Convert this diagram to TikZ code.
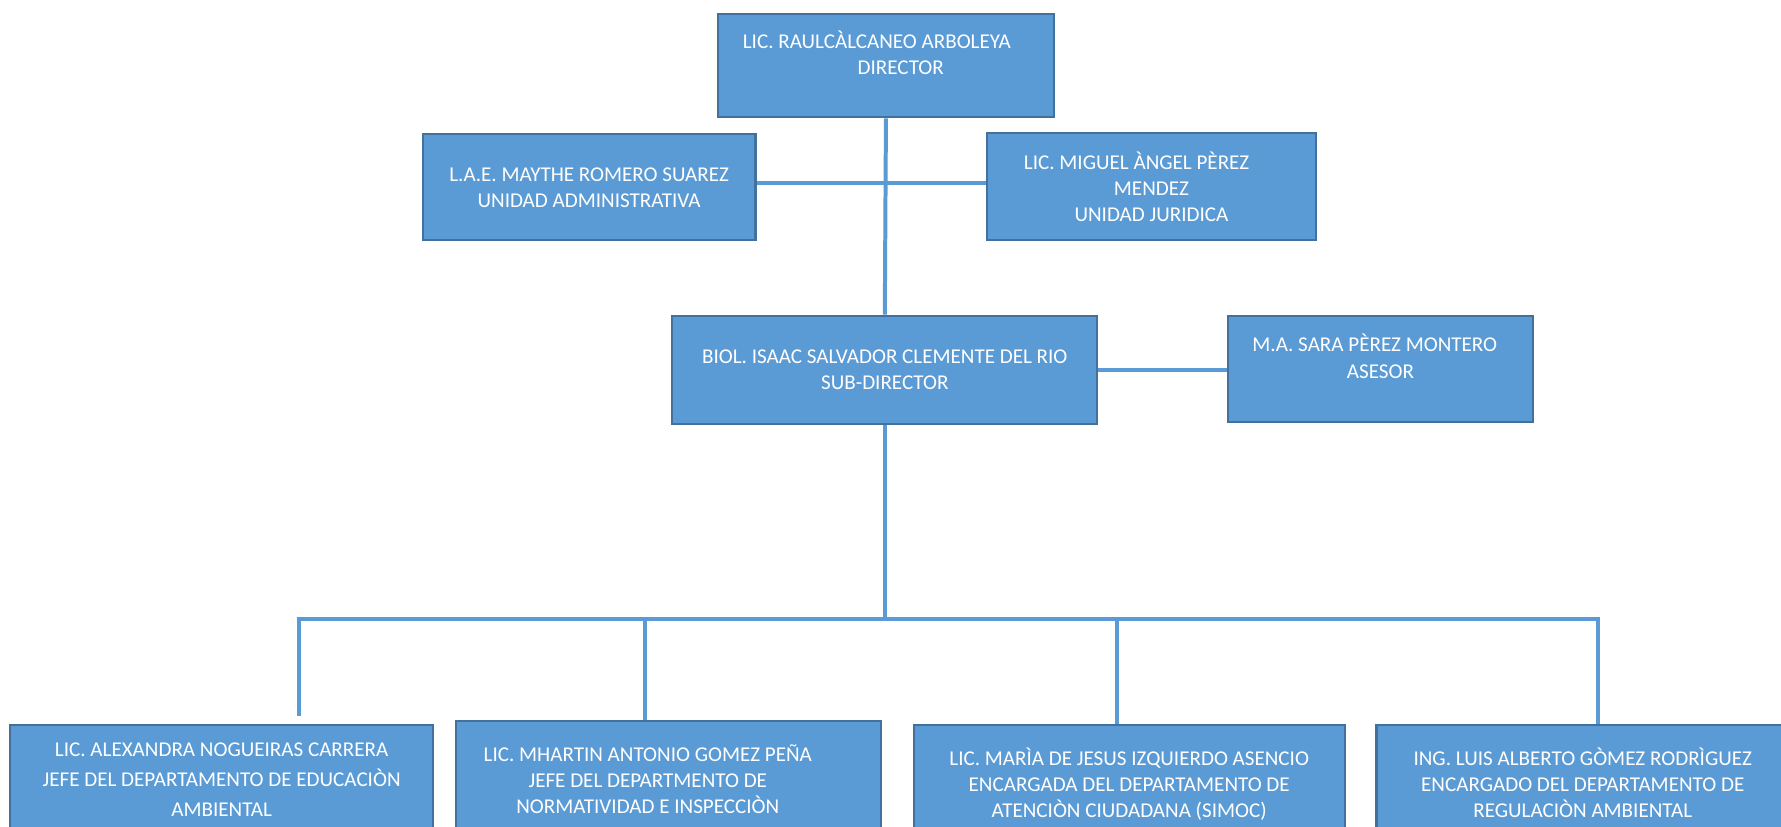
\documentclass[tikz,border=0pt]{standalone}
\usepackage{fontspec}
\setmainfont{Carlito}
\definecolor{boxfill}{HTML}{5B9BD5}
\definecolor{boxline}{HTML}{41719C}
\definecolor{linkblue}{HTML}{5B9BD5}
\tikzset{
  unit/.style={draw=boxline, line width=1.8pt, fill=boxfill, text=white,
    align=center, inner sep=0pt, font=\fontsize{18.5}{23}\selectfont},
  toptext/.style={anchor=north, text=white, align=center, inner sep=0pt,
    font=\fontsize{18.5}{23}\selectfont},
  link/.style={draw=linkblue, line width=3.5pt}
}
\begin{document}
\begin{tikzpicture}[x=1pt, y=-1pt]
        \clip (0,0) rectangle (1563,725.7);
        \fill[white] (0,0) rectangle (1563,725.7);

        % points on the lower bar
        \coordinate (t1) at (262,543);
        \coordinate (t2) at (566,543);
        \coordinate (t3) at (980,543);
        \coordinate (t4) at (1402,543);

        % boxes
        \node[unit, minimum width=295pt, minimum height=91pt,
          label={[toptext, yshift=-16pt]north:LIC. RAULCÀLCANEO ARBOLEYA\hspace*{16pt}\\\hspace*{26pt}DIRECTOR}] (dir) at (777.5,57.5) {};
        \node[unit, minimum width=292pt, minimum height=93pt] (adm) at (517,164.5)
          {L.A.E. MAYTHE ROMERO SUAREZ\\UNIDAD ADMINISTRATIVA};
        \node[unit, minimum width=289pt, minimum height=94pt] (jur) at (1010.5,164)
          {LIC. MIGUEL ÀNGEL PÈREZ\hspace*{26pt}\\MENDEZ\\UNIDAD JURIDICA};
        \node[unit, minimum width=373pt, minimum height=95pt] (sub) at (776.5,324.5)
          {BIOL. ISAAC SALVADOR CLEMENTE DEL RIO\\SUB-DIRECTOR};
        \node[unit, minimum width=267pt, minimum height=93pt,
          label={[toptext, yshift=-17pt]north:M.A. SARA PÈREZ MONTERO\hspace*{10pt}\\ASESOR}] (ase) at (1211.5,323.5) {};

        \node[unit, minimum width=371pt, minimum height=104pt,
          label={[toptext, yshift=-17pt, font=\fontsize{18.5}{26}\selectfont]north:LIC. ALEXANDRA NOGUEIRAS CARRERA\\JEFE DEL DEPARTAMENTO DE EDUCACIÒN\\AMBIENTAL}] (b1) at (194.5,688) {};
        \node[unit, minimum width=373pt, minimum height=107pt,
          label={[toptext, yshift=-21pt, xshift=-18pt]north:LIC. MHARTIN ANTONIO GOMEZ PEÑA\\JEFE DEL DEPARTMENTO DE\\NORMATIVIDAD E INSPECCIÒN}] (b2) at (586.5,686.5) {};
        \node[unit, minimum width=378pt, minimum height=104pt,
          label={[toptext, yshift=-21pt]north:LIC. MARÌA DE JESUS IZQUIERDO ASENCIO\\ENCARGADA DEL DEPARTAMENTO DE\\ATENCIÒN CIUDADANA (SIMOC)}] (b3) at (991,688) {};
        \node[unit, minimum width=362pt, minimum height=104pt,
          label={[toptext, yshift=-21pt]north:ING. LUIS ALBERTO GÒMEZ RODRÌGUEZ\\ENCARGADO DEL DEPARTAMENTO DE\\REGULACIÒN AMBIENTAL}] (b4) at (1389,688) {};

        % lines between the boxes
        \draw[link] (dir.south) -- (sub.north);
        \draw[link] ([yshift=4pt]adm.east) -- ([yshift=4pt]adm.east -| jur.west);
        \draw[link] (sub.east) -- (sub.east -| ase.west);
        \draw[link] (sub.south) -- (sub.south |- t1);
        \draw[link] ([xshift=-1.75pt]t1) -- ([xshift=1.75pt]t4);
        \draw[link] (t1) -- ++(0,85);
        \draw[link] (t2) -- (t2 |- b2.north);
        \draw[link] (t3) -- (t3 |- b3.north);
        \draw[link] (t4) -- (t4 |- b4.north);

    \end{tikzpicture}
\end{document}
